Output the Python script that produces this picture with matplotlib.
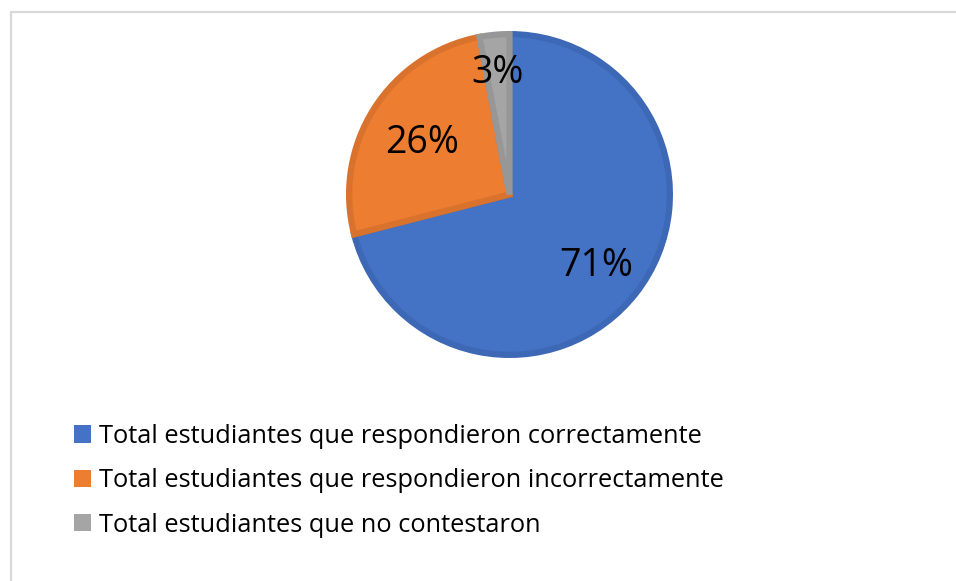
import numpy as np
import matplotlib
matplotlib.use("Agg")
import matplotlib.pyplot as plt
from matplotlib.patches import Rectangle, Patch

plt.rcParams['font.family'] = ['Open Sans', 'DejaVu Sans']

categories = [
    "Total estudiantes que respondieron correctamente",
    "Total estudiantes que respondieron incorrectamente",
    "Total estudiantes que no contestaron",
]
values = [71, 26, 3]
fill_colors = ["#4472C4", "#ED7D31", "#A5A5A5"]
edge_colors = ["#3D68B5", "#D9722D", "#979797"]
label_dist = [0.67, 0.63, 0.77]

W, H = 956, 581
fig = plt.figure(figsize=(W / 100, H / 100), dpi=100)
fig.patch.set_facecolor("white")

# light chart-area border (continues past the right and bottom edges)
fig.add_artist(Rectangle((10.5 / W, -0.1), 1.2, (H - 12.5) / H + 0.1,
                         transform=fig.transFigure, fill=False,
                         edgecolor="#D9D9D9", linewidth=1.6))

# pie axes, centred at (509.5, 194.5) px with radius 163.5 px
cx, cy, r_px = 509.5, 194.5, 163.5
half = 170
ax = fig.add_axes([(cx - half) / W, (H - cy - half) / H, 2 * half / W, 2 * half / H])
lim = half / r_px
ax.axis("off")

lw_pt = 4.5
inner = 1 - (lw_pt * 100 / 72) / 2 / r_px
wedges, _ = ax.pie(values, colors=fill_colors, startangle=90, counterclock=False,
                   radius=inner, center=(0, 0), frame=False,
                   wedgeprops=dict(linewidth=lw_pt, joinstyle="miter"))
for w, ec in zip(wedges, edge_colors):
    w.set_edgecolor(ec)
ax.set_aspect("equal")
ax.set_xlim(-lim, lim)
ax.set_ylim(-lim, lim)

total = sum(values)
cum = 0
dy = -4 / r_px
for v, d in zip(values, label_dist):
    mid = 90 - (cum + v / 2) / total * 360
    cum += v
    ang = np.deg2rad(mid)
    ax.text(d * np.cos(ang), d * np.sin(ang) + dy, f"{v}%", ha="center", va="center",
            fontsize=27, color="black")

handles = [Patch(facecolor=c, edgecolor="none") for c in fill_colors]
fig.legend(handles, categories, loc="upper left",
           bbox_to_anchor=(74 / W, 1 - 424 / H), frameon=False,
           fontsize=18.3, handlelength=0.68, handleheight=0.68,
           handletextpad=0.32, labelspacing=0.76, borderpad=0, borderaxespad=0)

fig.savefig("out.png", dpi=100)
